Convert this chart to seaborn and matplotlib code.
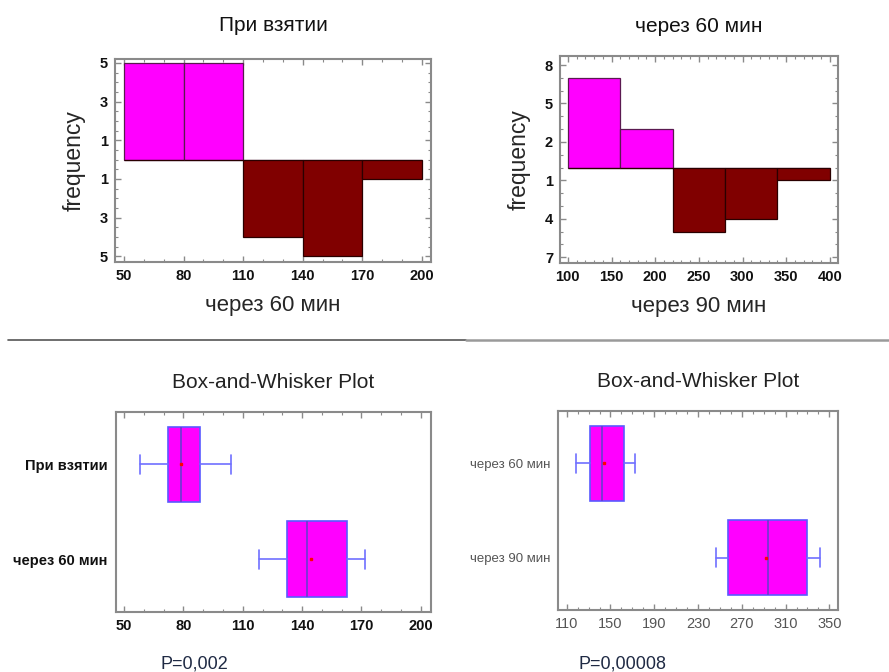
"""Mirrored histograms and box plots: glucose before / 60 / 90 min."""

import matplotlib.pyplot as plt
import matplotlib.ticker as mticker
import numpy as np
import seaborn as sns

# histogram data (bin edges + counts per bin)
LEFT_EDGES = [50, 80, 110, 140, 170, 200]
LEFT_UPPER = [5, 5, 0, 0, 0]      # При взятии
LEFT_LOWER = [0, 0, 4, 5, 1]      # через 60 мин
LEFT_YTICKS = [5, 3, 1, -1, -3, -5]

RIGHT_EDGES = [100, 160, 220, 280, 340, 400]
RIGHT_UPPER = [7, 3, 0, 0, 0]     # через 60 мин
RIGHT_LOWER = [0, 0, 5, 4, 1]     # через 90 мин
RIGHT_YTICKS = [8, 5, 2, -1, -4, -7]

# box-and-whisker summaries
BOX_L_LABELS = ["При взятии", "через 60 мин"]
BOX_L_WHISLO = [58, 118]
BOX_L_Q1 = [72, 132.5]
BOX_L_MED = [78.5, 142.5]
BOX_L_MEAN = [79, 144.5]
BOX_L_Q3 = [88.5, 162.5]
BOX_L_WHISHI = [104, 172]

BOX_R_LABELS = ["через 60 мин", "через 90 мин"]
BOX_R_WHISLO = [118.5, 246]
BOX_R_Q1 = [131.5, 257.5]
BOX_R_MED = [142.5, 293.5]
BOX_R_MEAN = [144, 292]
BOX_R_Q3 = [162.5, 329.5]
BOX_R_WHISHI = [172, 341.5]

PINK = "#FF00FF"
MAROON = "#800000"
FRAME = "#8A8A8A"
BLUE = "#5A5AFF"

sns.set_theme(style="ticks")
plt.rcParams["font.family"] = ["Liberation Sans", "DejaVu Sans"]


def style_frame(ax, minor_x, minor_y=None):
    for side in ax.spines.values():
        side.set_color(FRAME)
        side.set_linewidth(1.5)
    ax.tick_params(which="both", direction="in", top=True, right=True, color=FRAME,
                   labelcolor="#111111", pad=5)
    ax.tick_params(which="major", length=4, width=1)
    ax.tick_params(which="minor", length=2, width=0.8)
    ax.xaxis.set_minor_locator(mticker.MultipleLocator(minor_x))
    if minor_y:
        ax.yaxis.set_minor_locator(mticker.MultipleLocator(minor_y))


def mirrored_hist(ax, edges, upper, lower, yticks, ylim, xlabel, title, minor_y, title_pad):
    mids = (np.array(edges[:-1]) + np.array(edges[1:])) / 2
    sns.histplot(x=mids, weights=upper, bins=edges, ax=ax, color=PINK, alpha=1,
                 edgecolor="#5A1A50", linewidth=0.9)
    sns.histplot(x=mids, weights=-np.array(lower), bins=edges, ax=ax, color=MAROON,
                 alpha=1, edgecolor="#2A0000", linewidth=0.9)
    span = edges[-1] - edges[0]
    ax.set_xlim(edges[0] - span * 0.03, edges[-1] + span * 0.031)
    ax.set_ylim(*ylim)
    ax.set_xticks(np.arange(edges[0], edges[-1] + 1, 50 if edges[0] == 100 else 30))
    ax.set_yticks(yticks)
    ax.yaxis.set_major_formatter(mticker.FuncFormatter(lambda v, p: f"{abs(v):.0f}"))
    style_frame(ax, 10, minor_y)
    for lab in ax.get_xticklabels() + ax.get_yticklabels():
        lab.set_fontweight("bold")
        lab.set_fontsize(10.5)
    ax.set_xlabel(xlabel, fontsize=16, labelpad=9)
    ax.set_ylabel("frequency", fontsize=16.5, labelpad=10)
    ax.set_title(title, fontsize=15, pad=title_pad, color="#111111")


def box_panel(ax, labels, lo, q1, med, mean, q3, hi, xlim, xticks, bold):
    stats = [
        {"label": labels[i], "whislo": lo[i], "q1": q1[i], "med": med[i],
         "mean": mean[i], "q3": q3[i], "whishi": hi[i], "fliers": []}
        for i in range(len(labels))
    ]
    ax.bxp(stats, positions=[0, 1], widths=0.8, capwidths=0.2, orientation="horizontal",
           patch_artist=True, showmeans=True, manage_ticks=False,
           boxprops={"facecolor": PINK, "edgecolor": BLUE, "linewidth": 1.2},
           whiskerprops={"color": "#7070FF", "linewidth": 1.2},
           capprops={"color": "#7070FF", "linewidth": 1.2},
           medianprops={"color": "#6A3CD0", "linewidth": 1.2},
           meanprops={"marker": "s", "markersize": 2, "markerfacecolor": "red",
                      "markeredgecolor": "red"})
    ax.set_ylim(1.556, -0.556)
    ax.set_xlim(*xlim)
    ax.set_xticks(xticks)
    ax.set_yticks([0, 1])
    ax.set_yticklabels(labels)
    style_frame(ax, 10)
    ax.tick_params(axis="y", which="both", length=0, pad=6)
    ax.tick_params(axis="y", which="minor", left=False, right=False)
    for lab in ax.get_xticklabels():
        lab.set_fontsize(10.5)
        lab.set_fontweight("bold" if bold else "normal")
        if not bold:
            lab.set_color("#555555")
    for lab in ax.get_yticklabels():
        lab.set_fontsize(10.5 if bold else 9.5)
        lab.set_fontweight("bold" if bold else "normal")
        if not bold:
            lab.set_color("#555555")
    ax.set_title("Box-and-Whisker Plot", fontsize=15, pad=17, color="#222222")


fig = plt.figure(figsize=(8.89, 6.72), dpi=100)
fig.patch.set_facecolor("white")

ax_tl = fig.add_axes([0.1294, 0.6101, 0.3555, 0.3021])
ax_tr = fig.add_axes([0.6299, 0.6086, 0.3127, 0.3080])
ax_bl = fig.add_axes([0.1301, 0.0897, 0.3547, 0.2976])
ax_br = fig.add_axes([0.6280, 0.0923, 0.3150, 0.2961])

mirrored_hist(ax_tl, LEFT_EDGES, LEFT_UPPER, LEFT_LOWER, LEFT_YTICKS, (-5.3, 5.2),
              "через 60 мин", "При взятии", 0.5, 20)
mirrored_hist(ax_tr, RIGHT_EDGES, RIGHT_UPPER, RIGHT_LOWER, RIGHT_YTICKS, (-7.45, 8.7),
              "через 90 мин", "через 60 мин", 1, 17)

box_panel(ax_bl, BOX_L_LABELS, BOX_L_WHISLO, BOX_L_Q1, BOX_L_MED, BOX_L_MEAN, BOX_L_Q3,
          BOX_L_WHISHI, (45.7, 205.2), [50, 80, 110, 140, 170, 200], True)
box_panel(ax_br, BOX_R_LABELS, BOX_R_WHISLO, BOX_R_Q1, BOX_R_MED, BOX_R_MEAN, BOX_R_Q3,
          BOX_R_WHISHI, (102.3, 358.2), [110, 150, 190, 230, 270, 310, 350], False)

# divider between the two rows
fig.add_artist(plt.Line2D([8 / 889, 466 / 889], [1 - 340 / 672] * 2, color="#555555", linewidth=1.2))
fig.add_artist(plt.Line2D([466 / 889, 1.0], [1 - 340 / 672] * 2, color="#9A9A9A", linewidth=1.8))

fig.text(194 / 889, 1 - 664 / 672, "P=0,002", ha="center", va="center", fontsize=13, color="#1F2A44")
fig.text(623 / 889, 1 - 664 / 672, "P=0,00008", ha="center", va="center", fontsize=13, color="#1F2A44")

fig.savefig("out.png", dpi=100)
